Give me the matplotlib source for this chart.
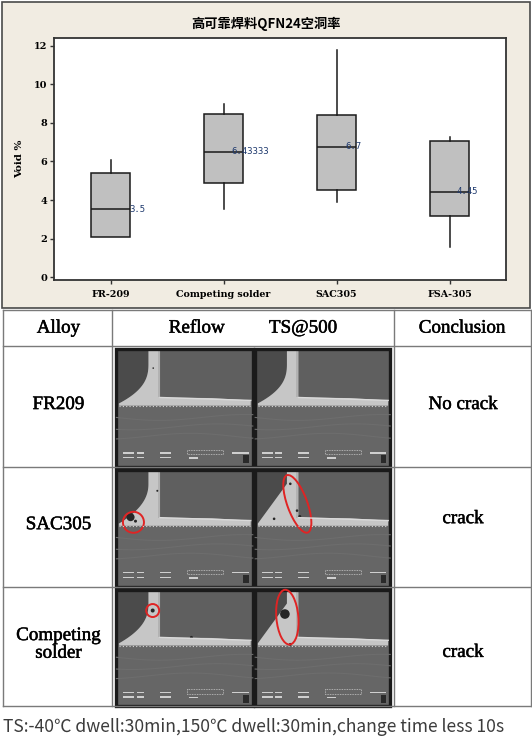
import matplotlib
matplotlib.use("Agg")

import matplotlib.pyplot as plt
import numpy as np
from matplotlib import patheffects
from matplotlib.patches import Circle, Ellipse, Polygon, Rectangle

W, H = 532, 743

# Box plot of QFN24 voiding.
categories = ["FR-209", "Competing solder", "SAC305", "FSA-305"]
whisker_low = [2.11, 3.55, 3.88, 1.56]
q1 = [2.11, 4.87, 4.54, 3.20]
medians = [3.52, 6.49, 6.75, 4.42]
q3 = [5.39, 8.48, 8.42, 7.08]
whisker_high = [6.06, 8.97, 11.77, 7.27]
median_labels = ["3.5", "6.43333", "6.7", "4.45"]
label_offsets = [0.17, 0.07, 0.08, 0.06]
y_ticks = [0, 2, 4, 6, 8, 10, 12]

# Thermal-shock table.
header = ["Alloy", "Reflow", "TS@500", "Conclusion"]
alloys = ["FR209", "SAC305", "Competing\nsolder"]
conclusions = ["No crack", "crack", "crack"]
footer = "TS:-40℃ dwell:30min,150℃ dwell:30min,change time less 10s"

_BEIGE = "#f1ece2"
_LINE = "#7a7a7a"
_RED = "#e02424"
_SERIF = "Liberation Serif"
_BOLD = [patheffects.withStroke(linewidth=0.35, foreground="black")]

fig = plt.figure(figsize=(W / 100, H / 100), dpi=100)
cv = fig.add_axes([0, 0, 1, 1])
cv.set_xlim(0, W)
cv.set_ylim(H, 0)
cv.axis("off")

# ---- top panel: box plot --------------------------------------------------
cv.add_patch(Rectangle((1.5, 1.5), 528, 306, fc=_BEIGE, ec="#4a4a4a", lw=1.2))

ax = fig.add_axes([54 / W, 1 - 280 / H, 452 / W, 242.3 / H])
stats = [dict(label=c, whislo=lo, q1=a, med=m, q3=b, whishi=hi)
         for c, lo, a, m, b, hi in zip(categories, whisker_low, q1, medians, q3, whisker_high)]
pos = np.arange(1, len(categories) + 1)
ax.bxp(stats, positions=pos, widths=0.34, patch_artist=True, showcaps=False,
       showfliers=False,
       boxprops=dict(facecolor="#c0c0c0", edgecolor="#1a1a1a", lw=1.1),
       medianprops=dict(color="#1a1a1a", lw=1.1),
       whiskerprops=dict(color="#1a1a1a", lw=1.1))
for p, m, lab, off in zip(pos, medians, median_labels, label_offsets):
    ax.text(p + off, m, lab, ha="left", va="center", fontsize=6.5,
            family="DejaVu Sans Mono", color="#1f3a6e")
ax.set_xlim(0.5, 4.5)
ax.set_ylim(-0.14, 12.41)
ax.set_yticks(y_ticks)
ax.set_yticklabels([str(t) for t in y_ticks], family="DejaVu Serif",
                   fontweight="bold", fontsize=7)
ax.set_xticks(pos)
ax.set_xticklabels(categories, family="DejaVu Serif", fontweight="bold", fontsize=6.8)
ax.tick_params(length=3, width=1, color="#333333", pad=4)
ax.tick_params(axis="y", pad=2)
for s in ax.spines.values():
    s.set_color("#333333")
    s.set_linewidth(1.3)
ax.set_ylabel("Void %", family="DejaVu Serif", fontweight="bold", fontsize=7.5)
ax.yaxis.set_label_coords(-0.066, 0.5)
fig.text(0.5, 1 - 24 / H, "高可靠焊料QFN24空洞率", ha="center", va="center",
         fontsize=9.5, fontweight="bold", family=["Noto Sans CJK SC", "DejaVu Sans"])

# ---- bottom panel: table with cross-section micrographs -------------------
col_x = [2.7, 112, 393.6, 531]
row_y = [310, 346.3, 466.8, 586.5, 706.3]
for x in col_x:
    cv.plot([x, x], [row_y[0], row_y[-1]], color=_LINE, lw=1)
for y in row_y:
    cv.plot([col_x[0], col_x[-1]], [y, y], color=_LINE, lw=1)

hy = (row_y[0] + row_y[1]) / 2
for txt, x in zip(header, [58.4, 196.8, 303, 462]):
    cv.text(x, hy, txt, ha="center", va="center", fontsize=13.7, family=_SERIF,
            path_effects=_BOLD)
for i, (alloy, concl) in enumerate(zip(alloys, conclusions)):
    cy = (row_y[i + 1] + row_y[i + 2]) / 2 - 2
    cv.text(58.4, cy, alloy, ha="center", va="center", fontsize=13.7,
            family=_SERIF, linespacing=1.05, path_effects=_BOLD)
    cv.text(463, cy + (0 if i == 0 else -6 if i == 1 else 8), concl, ha="center",
            va="center", fontsize=13.7, family=_SERIF, path_effects=_BOLD)


def micrograph(x0, y0, w, h, bend, bar=(0.41, 0.48), lead=(0.235, 0.32)):
    """Stand-in for one SEM cross-section of the QFN lead and fillet."""
    def P(u, v):
        return (x0 + u * w, y0 + v * h)

    cv.add_patch(Rectangle((x0, y0), w, h, fc="#5f5f5f", ec="none"))
    cv.add_patch(Rectangle(P(0, bar[1]), w, h * (1 - bar[1]), fc="#666666", ec="none"))
    t = np.linspace(0, 1, 40)
    fu = lead[0] - (lead[0] - 0.02) * t ** bend
    fv = 0.12 + (bar[1] - 0.14) * t
    curve = [P(u, v) for u, v in zip(fu, fv)]
    cv.add_patch(Polygon([P(0, 0), P(lead[0], 0)] + curve + [P(0, bar[1] - 0.02)],
                         fc="#4b4b4b", ec="none"))
    fillet = ([P(lead[0], 0)] + curve +
              [P(0.02, bar[1]), P(0.985, bar[1]), P(0.985, bar[0] + 0.025),
               P(0.7, bar[0] + 0.005), P(lead[1], bar[0]), P(lead[1], 0)])
    cv.add_patch(Polygon(fillet, fc="#c6c6c6", ec="none"))
    cv.add_patch(Rectangle(P(lead[1] - 0.015, 0), 0.015 * w, bar[0] * h, fc="#b2b2b2",
                           ec="none"))
    cv.plot(*zip(P(lead[1], bar[0]), P(0.985, bar[0] + 0.025)), color="#dadada", lw=1)
    cv.plot(*zip(P(0.02, bar[1]), P(0.985, bar[1])), color="#d5d5d5", lw=0.8,
            ls=(0, (1, 2)))
    uu = np.linspace(0, 1, 60)
    for k, v0 in enumerate([0.58, 0.66, 0.74]):
        vv = v0 + 0.025 * np.sin(uu * 5 + k)
        cv.plot(x0 + uu * w, y0 + vv * h, color="#6d6d6d", lw=0.8)
    for u0, u1, v in [(0.05, 0.13, 0.875), (0.15, 0.2, 0.875), (0.32, 0.4, 0.875),
                      (0.05, 0.13, 0.915), (0.15, 0.2, 0.915), (0.32, 0.4, 0.915),
                      (0.53, 0.6, 0.92), (0.85, 0.97, 0.875)]:
        cv.add_patch(Rectangle(P(u0, v), (u1 - u0) * w, 0.012 * h, fc="#cfcfcf",
                               ec="none"))
    cv.add_patch(Rectangle(P(0.52, 0.855), 0.26 * w, 0.04 * h, fc="none",
                           ec="#c8c8c8", lw=0.6, ls=(0, (1, 1))))
    cv.add_patch(Rectangle(P(0.93, 0.9), 0.04 * w, 0.07 * h, fc="#2a2a2a", ec="none"))
    cv.add_patch(Rectangle((x0, y0), w, h, fc="none", ec="#1a1a1a", lw=2.4))


img_x = [(116.4, 136.4), (255.2, 135.0)]
bends = [(2.6, 2.6), (2.2, 1.0), (2.4, 1.0)]
boxes = {}
for r in range(3):
    y0, y1 = row_y[r + 1] + 3, row_y[r + 2]
    for c in range(2):
        x0, w = img_x[c]
        micrograph(x0, y0, w, y1 - y0, bends[r][c])
        boxes[(r, c)] = (x0, y0, w, y1 - y0)

voids = [((1, 0), 0.104, 0.406, 4.0), ((1, 0), 0.14, 0.44, 1.5),
         ((1, 0), 0.3, 0.18, 1.0), ((1, 1), 0.26, 0.12, 1.3),
         ((1, 1), 0.31, 0.35, 1.3), ((1, 1), 0.33, 0.4, 1.5),
         ((1, 1), 0.14, 0.42, 1.3), ((2, 0), 0.266, 0.18, 2.0),
         ((2, 0), 0.55, 0.41, 1.5), ((2, 1), 0.22, 0.21, 4.8),
         ((2, 1), 0.26, 0.47, 1.5), ((0, 0), 0.27, 0.16, 0.8)]
for key, u, v, r in voids:
    x0, y0, w, h = boxes[key]
    cv.add_patch(Circle((x0 + u * w, y0 + v * h), r, fc="#262626", ec="none"))

marks = [((1, 0), 0.125, 0.45, 21, 21, 0), ((1, 1), 0.312, 0.292, 20, 61, -20),
         ((2, 0), 0.266, 0.18, 13, 13, 0), ((2, 1), 0.238, 0.237, 22, 55, -5)]
for key, u, v, ew, eh, ang in marks:
    x0, y0, w, h = boxes[key]
    cv.add_patch(Ellipse((x0 + u * w, y0 + v * h), ew, eh, angle=ang, fc="none",
                         ec=_RED, lw=1.4))

cv.text(3, 726.7, footer, ha="left", va="center", fontsize=12.6, color="#3c3c3c",
        family=["Noto Sans CJK SC", "DejaVu Sans"])

fig.savefig("out.png", dpi=100, facecolor="white")
